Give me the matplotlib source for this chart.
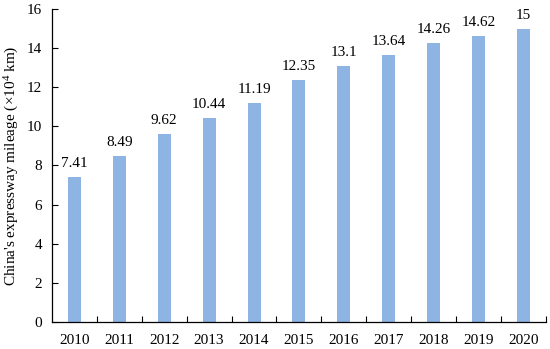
import matplotlib
matplotlib.use("Agg")
import matplotlib.pyplot as plt
import numpy as np

years = ["2010", "2011", "2012", "2013", "2014", "2015", "2016", "2017", "2018", "2019", "2020"]
mileage = [7.41, 8.49, 9.62, 10.44, 11.19, 12.35, 13.1, 13.64, 14.26, 14.62, 15]
labels = ["7.41", "8.49", "9.62", "10.44", "11.19", "12.35", "13.1", "13.64", "14.26", "14.62", "15"]

plt.rcParams['font.family'] = ['Liberation Serif', 'DejaVu Serif']
plt.rcParams['mathtext.fontset'] = 'custom'
plt.rcParams['mathtext.rm'] = 'Liberation Serif'
plt.rcParams['mathtext.default'] = 'regular'
fig = plt.figure(figsize=(5.5, 3.49), dpi=100)
ax = fig.add_axes([0.0945, 0.0774, 0.898, 0.897])

x = np.arange(len(years))
ax.bar(x, mileage, width=0.29, color='#8DB4E2')
for xi, v, lab in zip(x, mileage, labels):
    ax.annotate(lab, (xi, v), xytext=(0, 5), textcoords='offset points',
                ha='center', va='bottom', fontsize=11)

ax.set_xlim(-0.5, len(years) - 0.5)
ax.set_ylim(0, 16)
ax.set_yticks(range(0, 17, 2))
ax.set_xticks(x)
ax.set_xticklabels(years)
ax.set_xticks(np.arange(0.5, len(years), 1), minor=True)
ax.tick_params(axis='x', which='major', length=0, pad=9, labelsize=11)
ax.tick_params(axis='x', which='minor', direction='in', length=4.5, width=0.8)
ax.tick_params(axis='y', direction='in', length=4.5, width=0.8, labelsize=11, pad=7)
for s in ['top', 'right']:
    ax.spines[s].set_visible(False)
for s in ['left', 'bottom']:
    ax.spines[s].set_linewidth(0.9)
ax.set_ylabel("China's expressway mileage (×10$^{4}$ km)", fontsize=11)
ax.yaxis.set_label_coords(-0.062, 0.5)
fig.savefig("out.png", dpi=100)
